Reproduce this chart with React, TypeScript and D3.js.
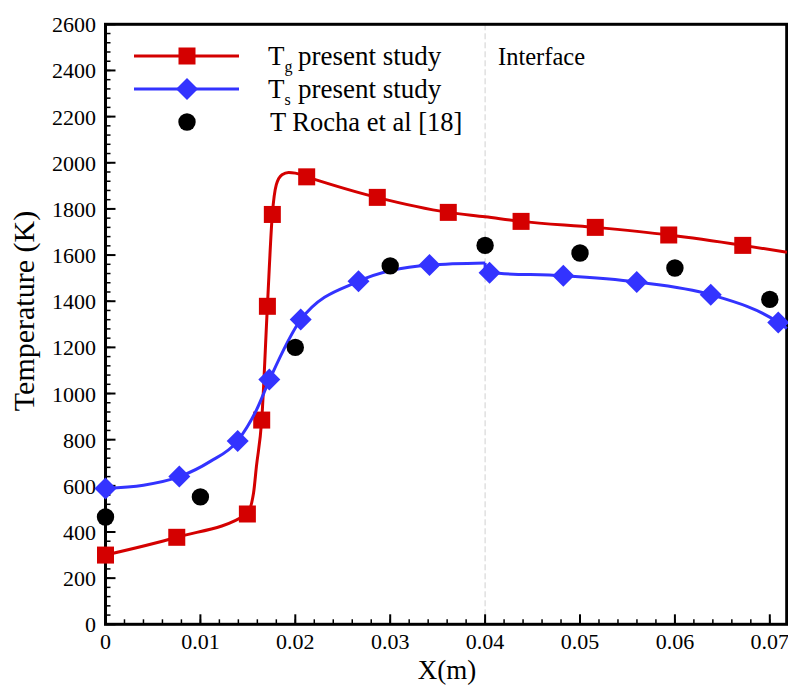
import React from "react";
import * as d3 from "d3";

// Gas temperature curve (present study)
const gasCurveX = [0, 0.0075, 0.0149, 0.0156, 0.0159, 0.01646, 0.01706, 0.01758, 0.018, 0.0186, 0.0193, 0.02, 0.0212, 0.0286, 0.0361, 0.04, 0.0438, 0.0516, 0.0594, 0.0672, 0.0718];
const gasCurveT = [300, 377, 478, 569, 683, 885, 1378, 1776, 1905, 1948, 1958, 1955, 1939, 1850, 1785, 1766, 1746, 1720, 1687, 1642, 1612];
// Gas temperature symbols
const gasMarkX = [0, 0.00751, 0.01495, 0.01646, 0.01706, 0.01758, 0.0212, 0.02864, 0.03612, 0.04379, 0.05161, 0.05935, 0.06715];
const gasMarkT = [300, 377, 478, 885, 1378, 1776, 1939, 1850, 1785, 1746, 1720, 1687, 1642];

// Solid temperature curve, burner section (x <= 0.04)
const solidCurveX1 = [0, 0.004, 0.0078, 0.011, 0.0139, 0.0159, 0.0173, 0.0206, 0.0267, 0.0341, 0.04];
const solidCurveT1 = [589, 603, 640, 705, 794, 928, 1061, 1321, 1487, 1557, 1566];
// Solid temperature curve, downstream section (x >= 0.04)
const solidCurveX2 = [0.04, 0.0405, 0.0482, 0.056, 0.0638, 0.0709, 0.0718];
const solidCurveT2 = [1526, 1523, 1510, 1483, 1428, 1308, 1282];
// Solid temperature symbols
const solidMarkX = [0, 0.00778, 0.01393, 0.01726, 0.02057, 0.02666, 0.03414, 0.04047, 0.04824, 0.05598, 0.06378, 0.07089];
const solidMarkT = [589, 640, 794, 1061, 1321, 1487, 1557, 1523, 1510, 1483, 1428, 1308];

// Reference data (Rocha et al)
const rochaX = [0, 0.01, 0.02, 0.03, 0.04, 0.05, 0.06, 0.07];
const rochaT = [465, 552, 1200, 1553, 1642, 1609, 1544, 1408];

const xTicks = [0, 0.01, 0.02, 0.03, 0.04, 0.05, 0.06, 0.07];
const xTickLabels = ["0", "0.01", "0.02", "0.03", "0.04", "0.05", "0.06", "0.07"];
const yTicks = [0, 200, 400, 600, 800, 1000, 1200, 1400, 1600, 1800, 2000, 2200, 2400, 2600];
const interfaceX = 0.04;

const RED = "#d40000";
const BLUE = "#3333ff";
const FONT = "Liberation Serif, Times New Roman, serif";

const left = 105.5, right = 786.7, top = 24.3, bottom = 624.3;

export default function App() {
  const x = d3.scaleLinear().domain([0, 0.07178]).range([left, right]);
  const y = d3.scaleLinear().domain([0, 2600]).range([bottom, top]);

  const zip = (xs: number[], ts: number[]) => xs.map((v, i) => [v, ts[i]] as [number, number]);
  const line = d3
    .line<[number, number]>()
    .x((d) => x(d[0]))
    .y((d) => y(d[1]))
    .curve(d3.curveMonotoneX);

  const xMinor = d3.range(0, 0.0718, 0.002);
  const yMinor = d3.range(0, 2601, 40);

  const sq = 17;
  const dia = 11;
  const dotR = 8.7;
  const diamondPath = (cx: number, cy: number, r: number) =>
    `M${cx},${cy - r}L${cx + r},${cy}L${cx},${cy + r}L${cx - r},${cy}Z`;

  const txt = { fontFamily: FONT, fill: "#000" };

  return (
    <svg
      width={788}
      height={686}
      style={{ position: "absolute", left: 0, top: 0, background: "#fff" }}
    >
      {/* interface marker */}
      <line
        x1={x(interfaceX)}
        x2={x(interfaceX)}
        y1={top}
        y2={bottom}
        stroke="#d0d0d0"
        strokeWidth={1}
        strokeDasharray="6,3"
      />
      <text x={498} y={65} fontSize={24.5} style={txt}>Interface</text>

      {/* minor and major ticks */}
      {xMinor.map((v, i) => (
        <line key={"xm" + i} x1={x(v)} x2={x(v)} y1={bottom} y2={bottom - 5} stroke="#000" strokeWidth={1.5} />
      ))}
      {xTicks.map((v, i) => (
        <line key={"xM" + i} x1={x(v)} x2={x(v)} y1={bottom} y2={bottom - 10} stroke="#000" strokeWidth={2} />
      ))}
      {yMinor.map((v, i) => (
        <line key={"ym" + i} x1={left} x2={left + 5} y1={y(v)} y2={y(v)} stroke="#000" strokeWidth={1.5} />
      ))}
      {yTicks.map((v, i) => (
        <line key={"yM" + i} x1={left} x2={left + 10} y1={y(v)} y2={y(v)} stroke="#000" strokeWidth={2} />
      ))}

      {/* frame */}
      <rect x={left} y={top} width={right - left} height={bottom - top} fill="none" stroke="#000" strokeWidth={3} />

      {/* tick labels */}
      {xTicks.map((v, i) => (
        <text key={"xl" + i} x={x(v)} y={649} fontSize={22} textAnchor="middle" style={txt}>
          {xTickLabels[i]}
        </text>
      ))}
      {yTicks.map((v, i) => (
        <text key={"yl" + i} x={96} y={y(v) + 8} fontSize={22} textAnchor="end" style={txt}>
          {v}
        </text>
      ))}

      {/* axis titles */}
      <text x={447} y={679} fontSize={27} textAnchor="middle" style={txt}>X(m)</text>
      <text
        transform={`translate(34,${311}) rotate(-90)`}
        fontSize={30}
        textAnchor="middle"
        style={txt}
      >
        Temperature (K)
      </text>

      {/* gas temperature */}
      <path d={line(zip(gasCurveX, gasCurveT)) || ""} fill="none" stroke={RED} strokeWidth={3} />
      {gasMarkX.map((v, i) => (
        <rect key={"g" + i} x={x(v) - sq / 2} y={y(gasMarkT[i]) - sq / 2} width={sq} height={sq} fill={RED} />
      ))}

      {/* solid temperature */}
      <path d={line(zip(solidCurveX1, solidCurveT1)) || ""} fill="none" stroke={BLUE} strokeWidth={3} />
      <path d={line(zip(solidCurveX2, solidCurveT2)) || ""} fill="none" stroke={BLUE} strokeWidth={3} />
      <line x1={x(interfaceX)} x2={x(interfaceX)} y1={y(solidCurveT1[solidCurveT1.length - 1])} y2={y(solidCurveT2[0])} stroke={BLUE} strokeWidth={3} />
      {solidMarkX.map((v, i) => (
        <path key={"s" + i} d={diamondPath(x(v), y(solidMarkT[i]), dia)} fill={BLUE} />
      ))}

      {/* reference data */}
      {rochaX.map((v, i) => (
        <circle key={"r" + i} cx={x(v)} cy={y(rochaT[i])} r={dotR} fill="#000" />
      ))}

      {/* legend */}
      <line x1={134} x2={239} y1={56} y2={56} stroke={RED} strokeWidth={3} />
      <rect x={187 - sq / 2} y={56 - sq / 2} width={sq} height={sq} fill={RED} />
      <line x1={134} x2={239} y1={89} y2={89} stroke={BLUE} strokeWidth={3} />
      <path d={diamondPath(187, 89, dia)} fill={BLUE} />
      <circle cx={187} cy={122} r={dotR} fill="#000" />

      <text x={268} y={65} fontSize={27} style={txt}>
        T<tspan fontSize={16} dy={7}>g</tspan>
        <tspan dy={-7} x={298}>present study</tspan>
      </text>
      <text x={268} y={98} fontSize={27} style={txt}>
        T<tspan fontSize={16} dy={7}>s</tspan>
        <tspan dy={-7} x={298}>present study</tspan>
      </text>
      <text x={270} y={131} fontSize={26.5} style={txt}>T Rocha et al [18]</text>
    </svg>
  );
}
